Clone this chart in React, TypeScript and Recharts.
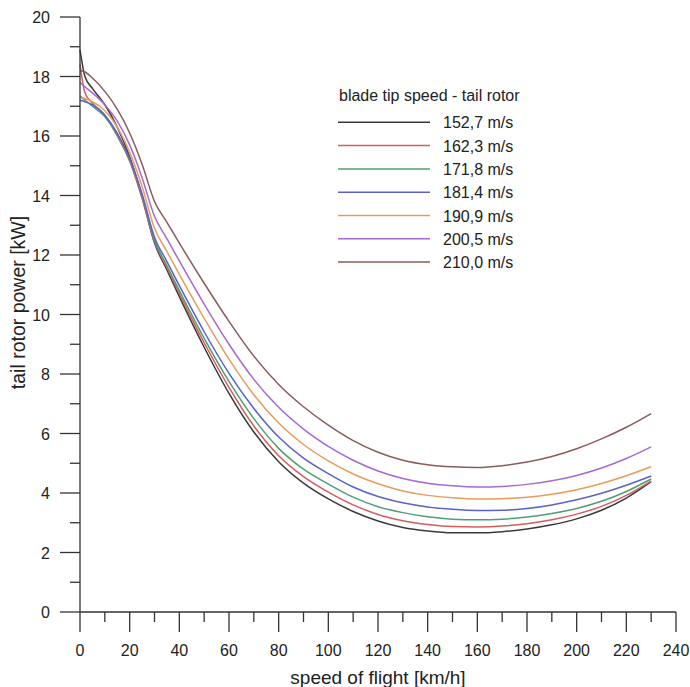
import React from 'react';
import { LineChart, Line, XAxis, YAxis, Legend } from 'recharts';

// flight speed [km/h]
const speeds = [0, 2, 5, 10, 15, 20, 25, 30, 35, 40, 50, 60, 70, 80, 90, 100, 110, 120, 130, 140, 150, 160, 170, 180, 190, 200, 210, 220, 230];

// tail rotor power [kW] per blade tip speed
const p1527 = [18.9, 18.0, 17.6, 17.05, 16.3, 15.3, 13.95, 12.4, 11.5, 10.6, 8.9, 7.35, 6.05, 5.05, 4.33, 3.8, 3.38, 3.06, 2.84, 2.72, 2.66, 2.66, 2.7, 2.79, 2.93, 3.13, 3.42, 3.83, 4.38];
const p1623 = [18.4, 17.45, 17.1, 16.7, 16.0, 15.15, 13.9, 12.45, 11.57, 10.7, 9.05, 7.55, 6.25, 5.25, 4.55, 4.03, 3.6, 3.28, 3.07, 2.94, 2.87, 2.86, 2.89, 2.97, 3.1, 3.29, 3.55, 3.92, 4.4];
const p1718 = [17.35, 17.2, 17.0, 16.65, 16.05, 15.2, 14.0, 12.5, 11.64, 10.8, 9.2, 7.75, 6.5, 5.5, 4.8, 4.3, 3.86, 3.54, 3.34, 3.2, 3.12, 3.1, 3.12, 3.19, 3.31, 3.48, 3.72, 4.05, 4.47];
const p1814 = [17.2, 17.15, 17.05, 16.7, 16.1, 15.25, 14.05, 12.6, 11.78, 10.97, 9.42, 8.02, 6.84, 5.88, 5.17, 4.65, 4.2, 3.88, 3.67, 3.53, 3.45, 3.41, 3.42, 3.48, 3.6, 3.77, 3.99, 4.26, 4.57];
const p1909 = [17.3, 17.25, 17.15, 16.85, 16.3, 15.45, 14.3, 12.9, 12.12, 11.35, 9.87, 8.5, 7.3, 6.35, 5.63, 5.08, 4.64, 4.31, 4.07, 3.92, 3.84, 3.8, 3.81, 3.86, 3.96, 4.11, 4.32, 4.58, 4.88];
const p2005 = [17.8, 17.65, 17.45, 17.05, 16.5, 15.7, 14.6, 13.3, 12.55, 11.8, 10.35, 9.0, 7.82, 6.88, 6.15, 5.57, 5.1, 4.74, 4.49, 4.33, 4.24, 4.2, 4.22, 4.29, 4.41, 4.59, 4.84, 5.16, 5.55];
const p2100 = [18.2, 18.15, 17.95, 17.5, 16.9, 16.1, 15.05, 13.8, 13.1, 12.4, 11.05, 9.77, 8.6, 7.65, 6.9, 6.28, 5.76, 5.37, 5.1, 4.95, 4.88, 4.86, 4.92, 5.04, 5.23, 5.49, 5.82, 6.21, 6.67];

const seriesNames = ['152,7 m/s', '162,3 m/s', '171,8 m/s', '181,4 m/s', '190,9 m/s', '200,5 m/s', '210,0 m/s'];
const seriesValues = [p1527, p1623, p1718, p1814, p1909, p2005, p2100];
const seriesColors = ['#3a3a3a', '#d65c5c', '#4f9f74', '#5a60cc', '#e89c5c', '#a46ad2', '#8b5b5b'];

const xTicks = [0, 10, 20, 30, 40, 50, 60, 70, 80, 90, 100, 110, 120, 130, 140, 150, 160, 170, 180, 190, 200, 210, 220, 230, 240];
const yTicks = [0, 1, 2, 3, 4, 5, 6, 7, 8, 9, 10, 11, 12, 13, 14, 15, 16, 17, 18, 19, 20];

const chartData = speeds.map((v, i) => {
  const row: Record<string, number> = { speed: v };
  seriesValues.forEach((s, k) => {
    row['s' + k] = s[i];
  });
  return row;
});

const FONT = '"Liberation Sans", Arial, sans-serif';
const AXIS = '#333';

const XTick = (props: any) => {
  const { x, y, payload } = props;
  const major = payload.value % 20 === 0;
  return (
    <g>
      <line x1={x} x2={x} y1={y} y2={y + (major ? 20 : 10)} stroke={AXIS} strokeWidth={1.3} />
      {major && (
        <text x={x} y={y + 44} textAnchor="middle" fontSize={16} fontFamily={FONT} fill="#222">
          {payload.value}
        </text>
      )}
    </g>
  );
};

const YTick = (props: any) => {
  const { x, y, payload } = props;
  const major = payload.value % 2 === 0;
  return (
    <g>
      <line x1={x - (major ? 20 : 10)} x2={x} y1={y} y2={y} stroke={AXIS} strokeWidth={1.3} />
      {major && (
        <text x={x - 30} y={y + 6} textAnchor="end" fontSize={16} fontFamily={FONT} fill="#222">
          {payload.value}
        </text>
      )}
    </g>
  );
};

const LegendBox = () => (
  <svg width={220} height={190} style={{ display: 'block' }}>
    <text x={9} y={21} fontSize={16} fontFamily={FONT} fill="#222">
      blade tip speed - tail rotor
    </text>
    {seriesNames.map((name, i) => {
      const cy = 42.3 + 23.3 * i;
      return (
        <g key={name}>
          <line x1={8} x2={100} y1={cy} y2={cy} stroke={seriesColors[i]} strokeWidth={1.5} />
          <text x={113} y={cy + 6} fontSize={16} fontFamily={FONT} fill="#222">
            {name}
          </text>
        </g>
      );
    })}
  </svg>
);

export default function App() {
  return (
    <div style={{ position: 'absolute', left: 0, top: 0, background: '#fff' }}>
      <LineChart width={690} height={687} data={chartData} margin={{ top: 17, right: 14, bottom: 0, left: 0 }}>
        <XAxis
          dataKey="speed"
          type="number"
          domain={[0, 240]}
          ticks={xTicks}
          interval={0}
          height={75}
          tickSize={0}
          tickMargin={0}
          tickLine={false}
          tick={<XTick />}
          axisLine={{ stroke: AXIS, strokeWidth: 1.3 }}
          label={{ value: 'speed of flight [km/h]', position: 'insideBottom', offset: 3, fontSize: 19, fontFamily: FONT, fill: '#222' }}
        />
        <YAxis
          type="number"
          domain={[0, 20]}
          ticks={yTicks}
          interval={0}
          width={80}
          tickSize={0}
          tickMargin={0}
          tickLine={false}
          tick={<YTick />}
          axisLine={{ stroke: AXIS, strokeWidth: 1.3 }}
          label={{ value: 'tail rotor power  [kW]', angle: -90, position: 'insideLeft', offset: 18, dy: -12, fontSize: 19.5, fontFamily: FONT, fill: '#222', style: { whiteSpace: 'pre', textAnchor: 'middle' } }}
        />
        <Legend
          layout="horizontal"
          verticalAlign="middle"
          align="center"
          content={<LegendBox />}
          wrapperStyle={{ position: 'absolute', left: 330, top: 80, width: 220, height: 190 }}
        />
        {seriesNames.map((name, k) => (
          <Line
            key={name}
            type="monotone"
            dataKey={'s' + k}
            name={name}
            stroke={seriesColors[k]}
            strokeWidth={1.5}
            dot={false}
            isAnimationActive={false}
          />
        ))}
      </LineChart>
    </div>
  );
}
